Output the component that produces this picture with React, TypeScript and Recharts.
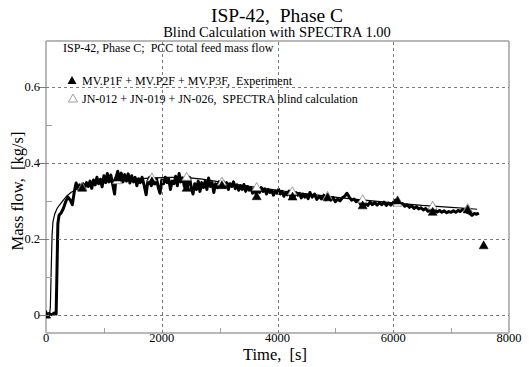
import React from "react";
import {
  ComposedChart,
  Line,
  Scatter,
  XAxis,
  YAxis,
} from "recharts";

// ---- data ----
const xTicks = [0, 1000, 2000, 3000, 4000, 5000, 6000, 7000, 8000];
const xMajorTicks = [0, 2000, 4000, 6000, 8000];
const yTicks = [0, 0.1, 0.2, 0.3, 0.4, 0.5, 0.6];
const yMajorTicks = [0, 0.2, 0.4, 0.6];
const xGrid = [2000, 4000, 6000];
const yGrid = [0, 0.2, 0.4, 0.6];

// Experiment: MV.P1F + MV.P2F + MV.P3F  [time s, mass flow kg/s]
const experimentFlow: [number, number][] = [
  [0, 0], [50, 0.004], [100, 0.001], [150, 0.006], [175, 0.003], [190, 0.12], [205, 0.24],
  [225, 0.262], [260, 0.268], [300, 0.28], [340, 0.298], [380, 0.31], [420, 0.302], [455, 0.29],
  [490, 0.325], [520, 0.347], [550, 0.332], [580, 0.342], [610, 0.33], [640, 0.345], [670, 0.334],
  [700, 0.348], [730, 0.338], [760, 0.352], [790, 0.333], [820, 0.355], [850, 0.342], [880, 0.362],
  [910, 0.345], [940, 0.357], [970, 0.337], [1000, 0.366], [1030, 0.348], [1060, 0.372], [1090, 0.35],
  [1120, 0.368], [1150, 0.345], [1185, 0.318], [1210, 0.362], [1240, 0.378], [1270, 0.355], [1300, 0.373],
  [1330, 0.35], [1360, 0.369], [1390, 0.352], [1420, 0.371], [1450, 0.347], [1480, 0.366], [1510, 0.35],
  [1540, 0.362], [1570, 0.34], [1600, 0.358], [1630, 0.348], [1660, 0.362], [1690, 0.345], [1730, 0.316],
  [1760, 0.352], [1790, 0.362], [1820, 0.34], [1850, 0.36], [1880, 0.345], [1910, 0.358], [1940, 0.335],
  [1970, 0.32], [2000, 0.355], [2030, 0.345], [2060, 0.362], [2090, 0.348], [2120, 0.358], [2150, 0.33],
  [2180, 0.352], [2210, 0.345], [2240, 0.365], [2270, 0.34], [2300, 0.372], [2330, 0.35], [2360, 0.36],
  [2390, 0.338], [2420, 0.355], [2450, 0.34], [2480, 0.362], [2510, 0.335], [2540, 0.318], [2570, 0.345],
  [2600, 0.33], [2630, 0.352], [2660, 0.325], [2690, 0.348], [2720, 0.335], [2750, 0.352], [2780, 0.33],
  [2810, 0.36], [2840, 0.338], [2870, 0.348], [2900, 0.322], [2930, 0.345], [2960, 0.335], [2990, 0.35],
  [3030, 0.34], [3060, 0.352], [3090, 0.335], [3120, 0.348], [3150, 0.33], [3180, 0.345], [3210, 0.338],
  [3240, 0.35], [3270, 0.332], [3300, 0.342], [3330, 0.328], [3360, 0.34], [3390, 0.33], [3420, 0.343],
  [3450, 0.325], [3480, 0.338], [3510, 0.328], [3540, 0.335], [3570, 0.32], [3600, 0.332], [3630, 0.318],
  [3660, 0.33], [3690, 0.322], [3720, 0.335], [3750, 0.325], [3780, 0.332], [3810, 0.318], [3840, 0.33],
  [3870, 0.322], [3900, 0.328], [3930, 0.315], [3960, 0.326], [3990, 0.32], [4020, 0.33], [4050, 0.318],
  [4080, 0.325], [4110, 0.312], [4140, 0.322], [4170, 0.316], [4200, 0.326], [4230, 0.31], [4260, 0.318],
  [4290, 0.312], [4320, 0.322], [4350, 0.315], [4380, 0.32], [4410, 0.308], [4440, 0.318], [4470, 0.31],
  [4500, 0.316], [4530, 0.306], [4560, 0.322], [4600, 0.31], [4640, 0.318], [4680, 0.304], [4720, 0.312],
  [4760, 0.305], [4800, 0.315], [4840, 0.303], [4880, 0.31], [4920, 0.302], [4960, 0.309], [5000, 0.298],
  [5040, 0.305], [5080, 0.3], [5120, 0.308], [5160, 0.312], [5200, 0.32], [5240, 0.31], [5280, 0.302],
  [5320, 0.305], [5360, 0.298], [5400, 0.301], [5440, 0.29], [5480, 0.285], [5520, 0.293], [5560, 0.288],
  [5600, 0.297], [5640, 0.29], [5680, 0.296], [5720, 0.289], [5760, 0.295], [5800, 0.29], [5840, 0.297],
  [5880, 0.288], [5920, 0.294], [5960, 0.289], [6000, 0.296], [6040, 0.302], [6080, 0.295], [6120, 0.29],
  [6160, 0.293], [6200, 0.286], [6240, 0.29], [6280, 0.283], [6320, 0.287], [6360, 0.28], [6400, 0.285],
  [6440, 0.279], [6480, 0.282], [6520, 0.276], [6560, 0.28], [6600, 0.273], [6640, 0.277], [6680, 0.272],
  [6720, 0.276], [6760, 0.271], [6800, 0.275], [6840, 0.27], [6880, 0.274], [6920, 0.269], [6960, 0.272],
  [7000, 0.27], [7040, 0.274], [7080, 0.27], [7120, 0.275], [7160, 0.272], [7200, 0.278], [7240, 0.275],
  [7280, 0.27], [7320, 0.267], [7360, 0.262], [7400, 0.267], [7440, 0.265], [7480, 0.268],
];

// SPECTRA blind calculation: JN-012 + JN-019 + JN-026
const calculationFlow: [number, number][] = [
  [0, 0], [60, 0], [75, 0.02], [90, 0.12], [105, 0.21], [120, 0.245], [150, 0.265], [190, 0.28],
  [240, 0.29], [300, 0.302], [360, 0.313], [430, 0.322], [500, 0.328], [600, 0.335], [700, 0.34],
  [850, 0.345], [1000, 0.349], [1250, 0.353], [1500, 0.357], [1800, 0.36], [2100, 0.362], [2400, 0.362],
  [2700, 0.357], [3000, 0.35], [3300, 0.343], [3600, 0.336], [4000, 0.328], [4300, 0.322], [4700, 0.315],
  [5100, 0.308], [5500, 0.302], [6000, 0.295], [6500, 0.288], [7000, 0.283], [7300, 0.28], [7450, 0.278],
];

const experimentMarkers: [number, number][] = [
  [0, 0], [625, 0.333], [1230, 0.36], [1830, 0.35], [2430, 0.333], [3040, 0.34], [3640, 0.311],
  [4260, 0.31], [4866, 0.308], [5471, 0.287], [6076, 0.3], [6681, 0.27], [7286, 0.276], [7562, 0.182],
];

const calculationMarkers: [number, number][] = [
  [0, 0], [625, 0.336], [1230, 0.353], [1830, 0.36], [2430, 0.362], [3040, 0.349], [3640, 0.335],
  [4256, 0.324], [4866, 0.312], [5471, 0.303], [6076, 0.294], [6681, 0.286], [7286, 0.28],
];

const titleText = "ISP-42,  Phase C";
const subtitleText = "Blind Calculation with SPECTRA 1.00";
const noteText = "ISP-42, Phase C;  PCC total feed mass flow";
const experimentLabel = "MV.P1F + MV.P2F + MV.P3F,  Experiment";
const calculationLabel = "JN-012 + JN-019 + JN-026,  SPECTRA blind calculation";
const xLabel = "Time,  [s]";
const yLabel = "Mass flow,  [kg/s]";

const toPoints = (arr: [number, number][]) => arr.map(([t, v]) => ({ t, v }));

const FONT = "'Liberation Serif', 'DejaVu Serif', serif";
const GRID = "#7a7a7a";
const FRAME = "#a0a0a0";

const W = 529;
const H = 367;
const margin = { top: 40, right: 19, bottom: 0, left: 0 };
const Y_AXIS_W = 46;
const X_AXIS_H = 34;
const PLOT_W = W - margin.left - margin.right - Y_AXIS_W - 1;
const PLOT_H = H - margin.top - margin.bottom - X_AXIS_H - 1;
const Y_DOMAIN: [number, number] = [-0.047, 0.72];
const X_DOMAIN: [number, number] = [0, 8000];
const DASH = 3;
const GAP = 3;

const txtStyle: React.CSSProperties = { whiteSpace: "pre", fontFamily: FONT };

// dashed path built from short sub-paths (no stroke-dasharray needed)
const hDashPath = (x0: number, y: number, len: number) => {
  let d = "";
  const yy = Math.round(y) + 0.5;
  for (let s = 0; s < len; s += DASH + GAP) {
    d += `M${x0 + s},${yy}h${Math.min(DASH, len - s)}`;
  }
  return d;
};
const vDashPath = (x: number, y0: number, len: number) => {
  let d = "";
  const xx = Math.round(x) + 0.5;
  for (let s = 0; s < len; s += DASH + GAP) {
    d += `M${xx},${y0 - s}v${-Math.min(DASH, len - s)}`;
  }
  return d;
};

const FilledTri = (props: any) => {
  const { cx, cy } = props;
  if (cx == null || cy == null) return null;
  return (
    <polygon
      points={`${cx},${cy - 5} ${cx - 4.5},${cy + 3} ${cx + 4.5},${cy + 3}`}
      fill="#000"
      stroke="#000"
      strokeWidth={0.5}
    />
  );
};

const OpenTri = (props: any) => {
  const { cx, cy } = props;
  if (cx == null || cy == null) return null;
  return (
    <polygon
      points={`${cx},${cy - 5} ${cx - 4.5},${cy + 3} ${cx + 4.5},${cy + 3}`}
      fill="#fff"
      stroke="#888"
      strokeWidth={0.8}
    />
  );
};

const XTick = (props: any) => {
  const { x, y, payload } = props;
  const v = payload.value;
  if (xMajorTicks.includes(v)) {
    return (
      <g>
        {xGrid.includes(v) && (
          <path d={vDashPath(x, y, PLOT_H)} fill="none" stroke={GRID} strokeWidth={1} />
        )}
        <text x={x} y={y + 9} textAnchor="middle" style={txtStyle} fontSize={12.5} fill="#000">
          {String(v)}
        </text>
      </g>
    );
  }
  return <path d={`M${Math.round(x) + 0.5},${y}v-5`} fill="none" stroke={FRAME} strokeWidth={1} />;
};

const YTick = (props: any) => {
  const { x, y, payload } = props;
  const v = payload.value;
  if (yMajorTicks.some((m) => Math.abs(m - v) < 1e-9)) {
    return (
      <g>
        {yGrid.some((m) => Math.abs(m - v) < 1e-9) && (
          <path d={hDashPath(x, y, PLOT_W)} fill="none" stroke={GRID} strokeWidth={1} />
        )}
        <path d={`M${x - 7},${Math.round(y) + 0.5}h7`} fill="none" stroke={GRID} strokeWidth={1} />
        <text x={x - 6} y={y + 4} textAnchor="end" style={txtStyle} fontSize={12.5} fill="#000">
          {v === 0 ? "0" : v.toFixed(1)}
        </text>
      </g>
    );
  }
  return <path d={`M${x},${Math.round(y) + 0.5}h6`} fill="none" stroke={FRAME} strokeWidth={1} />;
};

export default function App() {
  return (
    <div style={{ position: "absolute", left: 0, top: 0, width: W, height: H, background: "#fff" }}>
      <ComposedChart width={W} height={H} margin={margin}>
        <XAxis
          xAxisId="main"
          type="number"
          dataKey="t"
          domain={X_DOMAIN}
          ticks={xTicks}
          interval={0}
          height={X_AXIS_H}
          tickSize={0}
          tickMargin={0}
          tickLine={false}
          axisLine={{ stroke: FRAME, strokeWidth: 1.5 }}
          tick={<XTick />}
          allowDataOverflow
        />
        <XAxis
          xAxisId="top"
          orientation="top"
          type="number"
          dataKey="t"
          domain={X_DOMAIN}
          height={1}
          tick={false}
          tickLine={false}
          axisLine={{ stroke: FRAME, strokeWidth: 1.5 }}
          allowDataOverflow
        />
        <YAxis
          yAxisId="main"
          type="number"
          dataKey="v"
          domain={Y_DOMAIN}
          ticks={yTicks}
          interval={0}
          width={Y_AXIS_W}
          tickSize={0}
          tickMargin={0}
          tickLine={false}
          axisLine={{ stroke: FRAME, strokeWidth: 1.5 }}
          tick={<YTick />}
          allowDataOverflow
        />
        <YAxis
          yAxisId="right"
          orientation="right"
          type="number"
          dataKey="v"
          domain={Y_DOMAIN}
          width={1}
          tick={false}
          tickLine={false}
          axisLine={{ stroke: FRAME, strokeWidth: 1.5 }}
          allowDataOverflow
        />
        <Line
          xAxisId="main"
          yAxisId="main"
          data={toPoints(calculationFlow)}
          dataKey="v"
          type="linear"
          stroke="#000"
          strokeWidth={1.2}
          dot={false}
          isAnimationActive={false}
        />
        <Scatter
          xAxisId="main"
          yAxisId="main"
          data={toPoints(calculationMarkers)}
          dataKey="v"
          shape={<OpenTri />}
          isAnimationActive={false}
        />
        <Line
          xAxisId="main"
          yAxisId="main"
          data={toPoints(experimentFlow)}
          dataKey="v"
          type="linear"
          stroke="#000"
          strokeWidth={3}
          strokeLinejoin="round"
          dot={false}
          isAnimationActive={false}
        />
        <Scatter
          xAxisId="main"
          yAxisId="main"
          data={toPoints(experimentMarkers)}
          dataKey="v"
          shape={<FilledTri />}
          isAnimationActive={false}
        />
      </ComposedChart>
      <svg width={W} height={H} style={{ position: "absolute", left: 0, top: 0, pointerEvents: "none" }}>
        <text x={277} y={22} textAnchor="middle" style={txtStyle} fontSize={19.5} fill="#000">
          {titleText}
        </text>
        <text x={277} y={37} textAnchor="middle" style={txtStyle} fontSize={14.5} fill="#000">
          {subtitleText}
        </text>
        <text x={63} y={52} style={txtStyle} fontSize={12} fill="#000">
          {noteText}
        </text>
        <polygon points="72,76 67.5,84 76.5,84" fill="#000" />
        <text x={82} y={85} style={txtStyle} fontSize={12} fill="#000">
          {experimentLabel}
        </text>
        <polygon points="73,94 68.5,102 77.5,102" fill="#fff" stroke="#888" strokeWidth={0.8} />
        <text x={82} y={103} style={txtStyle} fontSize={12} fill="#000">
          {calculationLabel}
        </text>
        <text x={275} y={360} textAnchor="middle" style={txtStyle} fontSize={16.5} fill="#000">
          {xLabel}
        </text>
        <text
          x={23}
          y={191}
          textAnchor="middle"
          style={txtStyle}
          fontSize={16.5}
          fill="#000"
          transform="rotate(-90 23 191)"
        >
          {yLabel}
        </text>
      </svg>
    </div>
  );
}
